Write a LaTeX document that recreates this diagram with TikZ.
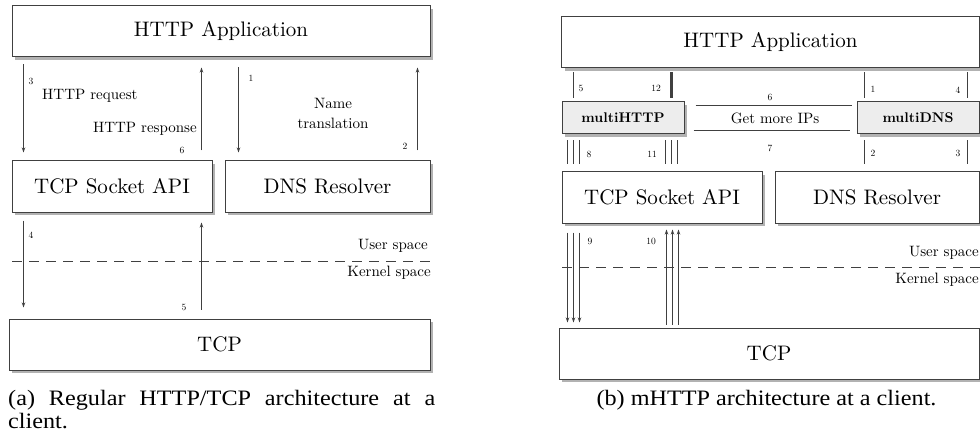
\documentclass[tikz,border=0pt]{standalone}
\usepackage{fontspec}
\newfontfamily\capfont[FakeStretch=1.1]{Liberation Serif}
\newfontfamily\boxfont{lmroman10-regular.otf}[BoldFont=lmroman10-bold.otf]
\usetikzlibrary{arrows.meta,shadows}

\tikzset{
  layer/.style={draw=black!75, line width=1pt, fill=white, inner sep=0pt,
    minimum height=51pt, font=\boxfont\fontsize{21}{24}\selectfont,
    drop shadow={shadow xshift=3pt, shadow yshift=-3pt, fill=black!30, opacity=1}},
  shim/.style={layer, minimum height=32pt, minimum width=122pt, fill=black!7,
    font=\boxfont\fontsize{14}{16}\selectfont\bfseries},
  flow/.style={draw=black!75, line width=1pt},
  call/.style={flow, -{Stealth[length=5pt,width=3.5pt]}},
  num/.style={font=\boxfont\fontsize{9.5}{10}\selectfont, inner sep=0pt},
  tag/.style={font=\boxfont\fontsize{15}{20}\selectfont, inner sep=0pt},
  userline/.style={draw=black!75, line width=1pt, dash pattern=on 10pt off 7pt},
  caption/.style={font=\capfont\fontsize{22}{23}\selectfont, inner sep=0pt}
}

\begin{document}
\begin{tikzpicture}[x=1pt, y=-1pt]
\useasboundingbox (0,0) rectangle (980,433);

% (a) regular stack
\node[layer, minimum width=418pt] (appA) at (221,31.5) {HTTP Application};
\node[layer, minimum width=200pt] (sockA) at (112,186.5) {TCP Socket API};
\node[layer, minimum width=205pt] (dnsA) at (327.5,186.5) {DNS Resolver};
\node[layer, minimum width=421pt] (tcpA) at (219.5,344.5) {TCP};

\draw[call] ([xshift=12pt,yshift=-7pt]appA.south west) -- ([xshift=12pt,yshift=8pt]sockA.north west);
\draw[call] ([xshift=-11pt,yshift=10pt]sockA.north east) -- ([xshift=-11pt,yshift=-10pt]sockA.north east |- appA.south);
\draw[call] ([xshift=14pt,yshift=-10pt]dnsA.north west |- appA.south) -- ([xshift=14pt,yshift=8pt]dnsA.north west);
\draw[call] ([xshift=-13pt,yshift=10pt]dnsA.north east) -- ([xshift=-13pt,yshift=-10pt]dnsA.north east |- appA.south);
\draw[call] ([xshift=12pt,yshift=-8pt]sockA.south west) -- ([xshift=12pt,yshift=11pt]sockA.south west |- tcpA.north);
\draw[call] ([xshift=-11pt,yshift=9pt]sockA.south east |- tcpA.north) -- ([xshift=-11pt,yshift=-10pt]sockA.south east);

\node[num] (a3) at (31,81) {3};
\node[num] (a6) at (182,150) {6};
\node[num] (a1) at (251,78) {1};
\node[num] (a2) at (405,146) {2};
\node[num] (a4) at (31,235) {4};
\node[num] (a5) at (184,307) {5};
\node[tag, anchor=west] (req) at (42,96) {HTTP request};
\node[tag, anchor=east] (resp) at (197,129) {HTTP response};
\node[tag, align=center] (trans) at (333,113) {Name\\translation};

\draw[userline] (12,261) -- (430,261);
\node[tag, anchor=east] (userA) at (428,246) {User space};
\node[tag, anchor=east] (kernA) at (431,273) {Kernel space};

% (b) mHTTP stack
\node[layer, minimum width=418pt] (appB) at (770.5,42.5) {HTTP Application};
\node[shim] (mhttp) at (623,118) {multiHTTP};
\node[shim] (mdns) at (918,118) {multiDNS};
\node[layer, minimum width=200pt] (sockB) at (662,197.5) {TCP Socket API};
\node[layer, minimum width=204pt] (dnsB) at (877,197.5) {DNS Resolver};
\node[layer, minimum width=420pt] (tcpB) at (769,353.5) {TCP};

\draw[flow] ([xshift=12pt,yshift=-4pt]mhttp.north west |- appB.south) -- ([xshift=12pt,yshift=3pt]mhttp.north west);
\draw[flow, line width=3pt] ([xshift=-13pt,yshift=-4pt]mhttp.north east |- appB.south) -- ([xshift=-13pt,yshift=3pt]mhttp.north east);
\draw[flow] ([xshift=8pt,yshift=-4pt]mdns.north west |- appB.south) -- ([xshift=8pt,yshift=3pt]mdns.north west);
\draw[flow] ([xshift=-12pt,yshift=-4pt]mdns.north east |- appB.south) -- ([xshift=-12pt,yshift=3pt]mdns.north east);

\draw[flow] ([xshift=11pt,yshift=-4pt]mhttp.north east) -- ([xshift=-5pt,yshift=-4pt]mdns.north west);
\draw[flow] ([xshift=9pt,yshift=4pt]mhttp.south east) -- ([xshift=-7pt,yshift=4pt]mdns.south west);
\node[tag] (more) at (775,118) {Get more IPs};

\foreach \dx in {-6,0,6} {
  \draw[flow] ([xshift={12pt+\dx pt},yshift=-6pt]mhttp.south west) -- ([xshift={12pt+\dx pt},yshift=7pt]mhttp.south west |- sockB.north);
  \draw[flow] ([xshift={-13pt+\dx pt},yshift=-6pt]mhttp.south east) -- ([xshift={-13pt+\dx pt},yshift=7pt]mhttp.south east |- sockB.north);
  \draw[call] ([xshift={12pt+\dx pt},yshift=-9pt]sockB.south west) -- ([xshift={12pt+\dx pt},yshift=5pt]sockB.south west |- tcpB.north);
  \draw[call] ([xshift={111pt+\dx pt},yshift=3pt]sockB.south west |- tcpB.north) -- ([xshift={111pt+\dx pt},yshift=-6pt]sockB.south west);
}
\draw[flow] ([xshift=8pt,yshift=-6pt]mdns.south west) -- ([xshift=8pt,yshift=7pt]mdns.south west |- dnsB.north);
\draw[flow] ([xshift=-12pt,yshift=-6pt]mdns.south east) -- ([xshift=-12pt,yshift=7pt]mdns.south east |- dnsB.north);

\node[num] (b5) at (581,88) {5};
\node[num] (b12) at (656,88) {12};
\node[num] (b1) at (873,89) {1};
\node[num] (b4) at (958,90) {4};
\node[num] (b6) at (770,97) {6};
\node[num] (b7) at (770,148) {7};
\node[num] (b8) at (589,154) {8};
\node[num] (b11) at (652,154) {11};
\node[num] (b2) at (873,153) {2};
\node[num] (b3) at (958,153) {3};
\node[num] (b9) at (590,241) {9};
\node[num] (b10) at (651,241) {10};

\draw[userline] (562,267) -- (980,267);
\node[tag, anchor=east] (userB) at (979,253) {User space};
\node[tag, anchor=east] (kernB) at (979,280) {Kernel space};

% captions
\node[caption, anchor=north west, text width=427pt, align=justify] (capA) at (8,390)
  {(a) Regular HTTP/TCP architecture at a\linebreak client.};
\node[caption, anchor=base] (capB) at (766.5,405) {(b) mHTTP architecture at a client.};
\end{tikzpicture}
\end{document}
